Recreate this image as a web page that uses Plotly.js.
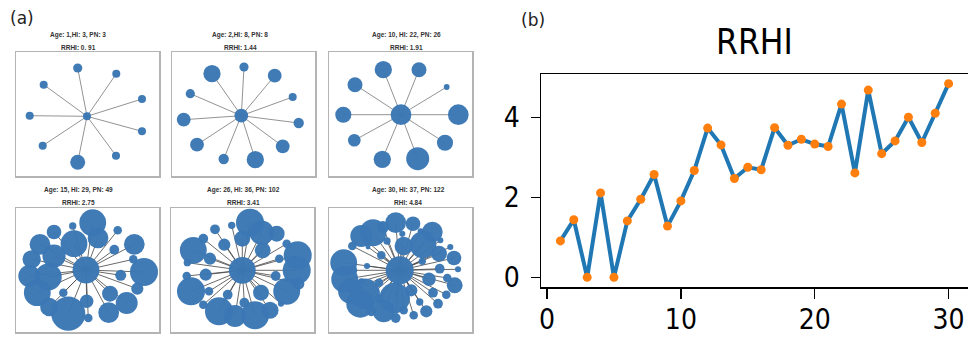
<!DOCTYPE html>
<html><head><meta charset="utf-8">
<script src="https://cdn.plot.ly/plotly-3.0.1.min.js"></script>
<style>html,body{margin:0;padding:0;background:#fff}#chart{width:968px;height:340px}</style>
</head><body><div id="chart"></div>
<script>
// ---- panel (b): RRHI by age ----
const ages = [1,2,3,4,5,6,7,8,9,10,11,12,13,14,15,16,17,18,19,20,21,22,23,24,25,26,27,28,29,30];
const rrhi = [0.91,1.44,0,2.11,0,1.41,1.95,2.57,1.28,1.91,2.67,3.73,3.31,2.47,2.75,2.69,3.74,3.30,3.45,3.33,3.27,4.33,2.61,4.68,3.09,3.41,4.00,3.37,4.10,4.84];
const rrhiTicksX = [0,10,20,30];
const rrhiTicksY = [0,2,4];

// ---- panel (a): six star networks (first node = hub); positions in box pixels, D = node diameter ----
const headA = ['Age: 1,HI: 3, PN: 3','Age: 2,HI: 8, PN: 8','Age: 10, HI: 22, PN: 26','Age: 15, HI: 29, PN: 49','Age: 26, HI: 36, PN: 102','Age: 30, HI: 37, PN: 122'];
const headB = ['RRHI: 0. 91','RRHI: 1.44','RRHI: 1.91','RRHI: 2.75','RRHI: 3.41','RHI: 4.84'];

const net1X = [71,61.7,100.3,27.7,126,13.7,126,26.7,100,61.7];
const net1Y = [64.3,16,21.7,32.7,47,63.7,79.3,93.7,103.7,110.3];
const net1D = [7,8,7,7,7,7,7,7,7,13];

const net2X = [69.3,40,72,102.7,18.3,120.7,11.7,126.7,25,110.7,51.7,83.3];
const net2Y = [63.7,21.7,15,23.7,41.7,45,67.7,71,92.7,94.3,107,107.7];
const net2D = [12,15,8,12,8,7,12,9,12,12,9,15];

const net3X = [72,54.3,90,26,117.7,14.3,129.3,25.3,116,53.3,88.7];
const net3Y = [62.7,17.7,17.7,32.7,35,62.7,62.7,88.3,90.7,107.3,106.7];
const net3D = [18,15,13,13,5,14,18,11,14,15,20];

const net4X = [70,76.7,82,56.7,101.7,38,58,24,118.3,98.3,38,15.7,117.3,13.3,32.3,128,104.7,121.3,21.3,47.3,94,70.7,110.7,33.3,52.3,92.7,72.3];
const net4Y = [62,14.7,30,18,22.3,24,35.7,36.3,36.3,41.7,48,51.3,51.3,68,69,64,67.3,80.7,84.7,84.7,85.7,93.3,95,99,105.7,104.7,110];
const net4D = [22,22,17,6,7,12,22,17,17,8,19,15,7,18,22,23,9,10,22,7,13,11,18,15,28,17,7];

const net5X = [71.3,79,90.7,105.7,60.7,44,32.3,71.3,53.3,22.3,91.7,115.7,126.7,39,16.3,108.3,125.7,15.7,34.7,104.7,127.3,20,38,56.7,90,115.7,110,32.3,73.3,48,64,84,99];
const net5Y = [62.3,14.7,24.7,25.7,17.3,21.3,30.7,30.7,36.7,42.3,42.3,35.7,47.3,50.7,54.7,50.7,62.3,68,66.7,68,75.7,83.3,83.3,86.7,84.7,83.3,95.7,96.7,94.7,103.3,108,107.3,102.3];
const net5D = [22,23,20,13,6,8,8,13,10,22,13,7,23,10,6,7,23,7,10,8,10,23,7,8,13,22,5,7,8,23,18,23,14];

const net6X = [70.7,66.7,84,44,32.3,54,103.3,91.7,73.3,58,94,74.7,111.3,23.3,39,121.3,110,52.3,14.7,125,93.3,110.7,38,24,129,15.7,100,118.3,32.3,50,125.7,82.3,104,117.3,21.3,35.7,65.7,50,90.7,109,31.3,54.7,74.7,97.3,42.3,66.7,84.7];
const net6Y = [62.3,14.7,15.7,24.7,28,19,24,23.3,25.7,33,36.7,38,32.3,38,39,39,45.7,47.3,54.7,50,53.3,60.7,58,62.3,61.3,71.3,71.3,70,73.3,74.7,77.3,82.3,84.7,86.7,83.3,85.7,90,90.7,94,95.7,95.7,103.3,102.3,103.3,103.3,110,107.3];
const net6D = [23,17,12,22,18,10,17,5,5,6,22,15,5,7,4,5,13,7,22,12,6,8,5,7,5,22,11,7,5,7,13,10,8,7,20,25,25,7,6,8,23,18,7,10,8,8,7];

const netsX = [net1X,net2X,net3X,net4X,net5X,net6X];
const netsY = [net1Y,net2Y,net3Y,net4Y,net5Y,net6Y];
const netsD = [net1D,net2D,net3D,net4D,net5D,net6D];

// ---- geometry / style ----
const W = 968, H = 340;
const boxL = [16,172,329, 16,171,329];
const boxT = [52,52,52, 208,208,208];
const boxW = 143, boxH = 124;
const headCx = [78,240,406, 78,243,408];
const headY1 = [35,35,35, 190,190,190];
const headY2 = [48,48,48, 202,202,202];
const nodeColor = '#3a77b4';
const sizeScale = [1.15,1.15,1.15,1.22,1.22,1.22];
const edgeColors = ['#777','#777','#777','#444','#444','#444'];

const traces = [];
const layout = {
  width: W, height: H, margin: {l:0,r:0,t:0,b:0},
  paper_bgcolor: '#fff', plot_bgcolor: 'rgba(0,0,0,0)',
  showlegend: false, annotations: []
};

for (let i = 0; i < 6; i++) {
  const k = i + 1;
  const xa = 'x' + k, ya = 'y' + k;
  const X = netsX[i], Y = netsY[i], D = netsD[i];
  const ex = [], ey = [];
  for (let j = 1; j < X.length; j++) { ex.push(X[0], X[j], null); ey.push(Y[0], Y[j], null); }
  traces.push({type:'scatter', mode:'lines', x: ex, y: ey, xaxis: xa, yaxis: ya,
    line: {color: edgeColors[i], width: 0.8}, hoverinfo: 'skip'});
  traces.push({type:'scatter', mode:'markers', x: X, y: Y, xaxis: xa, yaxis: ya,
    marker: {size: D.map(d => d * sizeScale[i]), color: nodeColor, opacity: 0.97, line: {width: 0}}, hoverinfo: 'skip'});
  const axCommon = {showgrid:false, zeroline:false, showticklabels:false, ticks:'',
    showline:true, mirror:true, linecolor:'#b4b4b4', linewidth:1.5, fixedrange:true};
  layout['xaxis' + k] = Object.assign({}, axCommon, {anchor: ya,
    domain: [boxL[i]/W, (boxL[i]+boxW)/W], range: [0, boxW]});
  layout['yaxis' + k] = Object.assign({}, axCommon, {anchor: xa,
    domain: [(H-(boxT[i]+boxH))/H, (H-boxT[i])/H], range: [boxH, 0]});
  const hf = {family: 'Liberation Sans, Arial, sans-serif', size: 6.5, color: '#333', weight: 'bold'};
  layout.annotations.push({xref:'paper', yref:'paper', x: headCx[i]/W, y: 1 - headY1[i]/H,
    text: headA[i], showarrow:false, font: hf, xanchor:'center', yanchor:'middle'});
  layout.annotations.push({xref:'paper', yref:'paper', x: headCx[i]/W, y: 1 - headY2[i]/H,
    text: headB[i], showarrow:false, font: hf, xanchor:'center', yanchor:'middle'});
}

// panel labels
layout.annotations.push({xref:'paper', yref:'paper', x: 8/W, y: 1 - 18/H, text:'(a)', showarrow:false,
  xanchor:'left', yanchor:'middle', font:{family:'DejaVu Sans, sans-serif', size:17, color:'#222'}});
layout.annotations.push({xref:'paper', yref:'paper', x: 519/W, y: 1 - 20/H, text:'(b)', showarrow:false,
  xanchor:'left', yanchor:'middle', font:{family:'DejaVu Sans, sans-serif', size:17, color:'#222'}});
layout.annotations.push({xref:'paper', yref:'paper', x: 754/W, y: 1 - 42/H, text:'RRHI', showarrow:false,
  xanchor:'center', yanchor:'middle', font:{family:'DejaVu Sans Condensed, DejaVu Sans, sans-serif', size:35, color:'#000'}});

// panel (b) traces
traces.push({type:'scatter', mode:'lines', x: ages, y: rrhi, xaxis:'x7', yaxis:'y7',
  line:{color:'#1f77b4', width:4}, hoverinfo:'skip'});
traces.push({type:'scatter', mode:'markers', x: ages, y: rrhi, xaxis:'x7', yaxis:'y7',
  marker:{color:'#ff7f0e', size:9}, cliponaxis:false, hoverinfo:'skip'});

const tf = {family:'DejaVu Sans Condensed, DejaVu Sans, sans-serif', size:28, color:'#000'};
layout.xaxis7 = {anchor:'y7', domain:[541/W, 1], range:[-0.45, 31.45],
  tickmode:'array', tickvals: rrhiTicksX, ticktext: rrhiTicksX.map(String),
  showgrid:false, zeroline:false, showline:true, mirror:true, linecolor:'#000', linewidth:1.5,
  ticks:'outside', ticklen:10, tickwidth:1.5, tickcolor:'#000', tickfont: tf, ticklabelstandoff: -3};
layout.yaxis7 = {anchor:'x7', domain:[53/H, 266/H], range:[-0.242, 5.082],
  tickmode:'array', tickvals: rrhiTicksY, ticktext: rrhiTicksY.map(String),
  showgrid:false, zeroline:false, showline:true, mirror:true, linecolor:'#000', linewidth:1.5,
  ticks:'outside', ticklen:9, tickwidth:1.5, tickcolor:'#000', tickfont: tf, ticklabelstandoff: 5};

Plotly.newPlot('chart', traces, layout, {staticPlot:true, displayModeBar:false});
</script>
</body></html>
